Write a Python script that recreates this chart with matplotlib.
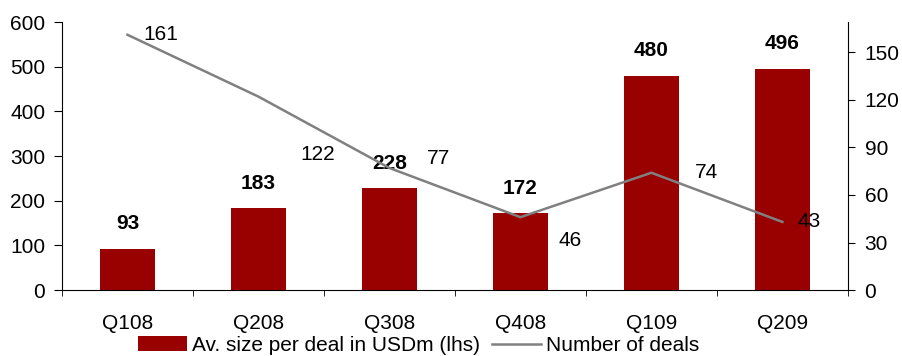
import numpy as np
import matplotlib
matplotlib.use("Agg")
import matplotlib.pyplot as plt

plt.rcParams["font.family"] = ["Liberation Sans", "DejaVu Sans"]

quarters = ["Q108", "Q208", "Q308", "Q408", "Q109", "Q209"]
avg_size = [93, 183, 228, 172, 480, 496]
num_deals = [161, 122, 77, 46, 74, 43]

# label offsets for the line values (points)
deal_offsets = [(24, 0), (43, -42), (35, 7), (36, -17), (40, 0), (19, 0)]

bar_color = "#990000"
line_color = "#808080"
fs = 15

fig = plt.figure(figsize=(9.02, 3.56), dpi=100)
ax = fig.add_axes([0.0687, 0.185, 0.8713, 0.753])
ax2 = ax.twinx()

x = np.arange(len(quarters))
ax.bar(x, avg_size, width=0.42, color=bar_color, zorder=2,
       label="Av. size per deal in USDm (lhs)")
for xi, v in zip(x, avg_size):
    ax.annotate(str(v), (xi, v), xytext=(0, 18), textcoords="offset points",
                ha="center", va="center", fontsize=fs, fontweight="bold")

ax2.plot(x, num_deals, color=line_color, linewidth=1.8,
         label="Number of deals")
for xi, v, off in zip(x, num_deals, deal_offsets):
    ax2.annotate(str(v), (xi, v), xytext=off, textcoords="offset points",
                 ha="center", va="center", fontsize=fs)

ax.set_xlim(-0.5, len(quarters) - 0.5)
ax.set_ylim(0, 600)
ax2.set_ylim(0, 169)
ax.set_yticks(range(0, 601, 100))
ax2.set_yticks(range(0, 151, 30))

ax.set_xticks(x)
ax.set_xticklabels(quarters)
ax.set_xticks(np.arange(-0.5, len(quarters), 1), minor=True)
ax.tick_params(axis="x", which="major", length=0, pad=17, labelsize=fs)
ax.tick_params(axis="x", which="minor", length=4.5, direction="out")
ax.tick_params(axis="y", length=6, direction="out", labelsize=fs, pad=6)
ax2.tick_params(axis="y", length=5, direction="out", labelsize=fs, pad=7)

for a in (ax, ax2):
    a.spines["top"].set_visible(False)
ax.spines["right"].set_visible(False)
ax2.spines["left"].set_visible(False)
ax2.spines["bottom"].set_visible(False)

h1, l1 = ax.get_legend_handles_labels()
h2, l2 = ax2.get_legend_handles_labels()
fig.legend(h1 + h2, l1 + l2, loc="center", bbox_to_anchor=(0.464, 0.03),
           ncol=2, frameon=False, fontsize=fs, handlelength=2.35,
           handletextpad=0.25, columnspacing=0.55, borderpad=0)

fig.savefig("out.png", dpi=100)
